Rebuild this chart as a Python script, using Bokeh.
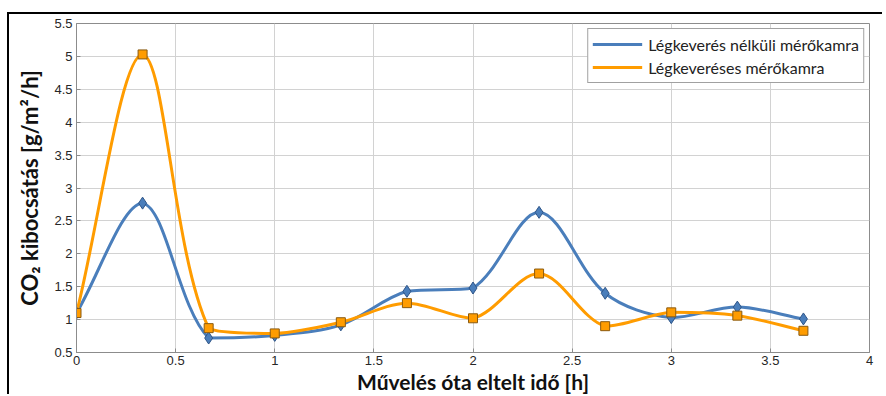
import numpy as np
from bokeh.plotting import figure
from bokeh.models import FixedTicker, ColumnDataSource, Range1d
from bokeh.embed import file_html
from bokeh.resources import INLINE

# ---- data ----
hours = [0, 1/3, 2/3, 1, 4/3, 5/3, 2, 7/3, 8/3, 3, 10/3, 11/3]
without_mixing = [1.10, 2.77, 0.72, 0.76, 0.92, 1.43, 1.48, 2.63, 1.40, 1.03, 1.19, 1.01]
with_mixing = [1.10, 5.03, 0.87, 0.79, 0.96, 1.25, 1.02, 1.70, 0.90, 1.11, 1.06, 0.83]
series_names = ["Légkeverés nélküli mérőkamra", "Légkeveréses mérőkamra"]
x_ticks = [0, 0.5, 1, 1.5, 2, 2.5, 3, 3.5, 4]
y_ticks = [0.5, 1, 1.5, 2, 2.5, 3, 3.5, 4, 4.5, 5, 5.5]

BLUE = "#4a7ebb"
BLUE_EDGE = "#2f5588"
ORANGE = "#ff9c00"
ORANGE_EDGE = "#8a5a10"

W, H = 873, 380
ML, MR, MT, MB = 67, 15, 9, 41
SX = (W - ML - MR) / (x_ticks[-1] - x_ticks[0])
SY = (H - MT - MB) / (y_ticks[-1] - y_ticks[0])


def smooth_segments(xs, ys):
    """Bezier segments through the data points (smoothed-line rendering)."""
    P = np.column_stack([np.asarray(xs) * SX, np.asarray(ys) * SY])
    n = len(P)
    out = {k: [] for k in ["x0", "y0", "x1", "y1", "cx0", "cy0", "cx1", "cy1"]}

    def ctrl(i, forward):
        pm = P[max(i - 1, 0)]
        p = P[i]
        pp = P[min(i + 1, n - 1)]
        d = pp - pm
        lin = np.linalg.norm(p - pm)
        lout = np.linalg.norm(pp - p)
        if lin + lout == 0:
            return p.copy()
        f = (lout if forward else lin) / (lin + lout) / 3.0
        return p + d * f if forward else p - d * f

    for i in range(n - 1):
        a, b = P[i], P[i + 1]
        c1 = ctrl(i, True)
        c2 = ctrl(i + 1, False)
        lo, hi = min(a[1], b[1]), max(a[1], b[1])
        c1[1] = min(max(c1[1], lo), hi)
        c2[1] = min(max(c2[1], lo), hi)
        out["x0"].append(a[0] / SX); out["y0"].append(a[1] / SY)
        out["x1"].append(b[0] / SX); out["y1"].append(b[1] / SY)
        out["cx0"].append(c1[0] / SX); out["cy0"].append(c1[1] / SY)
        out["cx1"].append(c2[0] / SX); out["cy1"].append(c2[1] / SY)
    return out


p = figure(width=W, height=H, output_backend="svg", toolbar_location=None,
           x_range=Range1d(x_ticks[0], x_ticks[-1]),
           y_range=Range1d(y_ticks[0], y_ticks[-1]),
           min_border_left=ML, min_border_right=MR,
           min_border_top=MT, min_border_bottom=MB)
p.styles = {"border-left": "2px solid black", "border-top": "2px solid black",
            "box-sizing": "content-box", "margin-top": "12px",
            "margin-left": "7px"}

p.background_fill_color = "white"
p.border_fill_color = "white"
p.outline_line_color = "#8c8c8c"
p.outline_line_width = 1

for ax in (p.xaxis[0], p.yaxis[0]):
    ax.axis_line_color = "#8c8c8c"
    ax.major_tick_line_color = "#8c8c8c"
    ax.major_tick_in = 4
    ax.major_tick_out = 0
    ax.minor_tick_line_color = None
    ax.major_label_text_font = "Liberation Sans"
    ax.major_label_text_font_size = "13px"
    ax.major_label_text_color = "#262626"
    ax.axis_label_text_font = "Lato"
    ax.axis_label_text_font_style = "bold"
    ax.axis_label_text_color = "#111111"

p.xaxis.axis_label_text_font_size = "21px"
p.yaxis.axis_label_text_font_size = "22px"
p.xaxis.ticker = FixedTicker(ticks=x_ticks)
p.yaxis.ticker = FixedTicker(ticks=y_ticks)
p.xaxis.major_label_overrides = {t: f"{t:g}" for t in x_ticks}
p.yaxis.major_label_overrides = {t: f"{t:g}" for t in y_ticks}
p.xaxis.major_label_standoff = 3
p.yaxis.major_label_standoff = 4
p.xaxis.axis_label = "Művelés óta eltelt idő [h]"
p.yaxis.axis_label = "CO₂ kibocsátás [g/m²/h]"
p.xaxis.axis_label_standoff = 1
p.yaxis.axis_label_standoff = 8

p.xgrid.grid_line_color = "#d2d2d2"
p.ygrid.grid_line_color = "#d2d2d2"
p.xgrid.grid_line_width = 1
p.ygrid.grid_line_width = 1

src_b = ColumnDataSource(smooth_segments(hours, without_mixing))
src_o = ColumnDataSource(smooth_segments(hours, with_mixing))

p.bezier(x0="x0", y0="y0", x1="x1", y1="y1", cx0="cx0", cy0="cy0",
         cx1="cx1", cy1="cy1", source=src_b, line_color=BLUE, line_width=3,
         legend_label=series_names[0])
p.bezier(x0="x0", y0="y0", x1="x1", y1="y1", cx0="cx0", cy0="cy0",
         cx1="cx1", cy1="cy1", source=src_o, line_color=ORANGE, line_width=3,
         legend_label=series_names[1])

p.scatter(hours, without_mixing, marker="diamond", size=12,
          fill_color=BLUE, line_color=BLUE_EDGE, line_width=1)
p.scatter(hours, with_mixing, marker="square", size=9,
          fill_color=ORANGE, line_color=ORANGE_EDGE, line_width=1)

lg = p.legend[0]
lg.location = "top_right"
lg.margin = 5
lg.padding = 4
lg.spacing = 1
lg.glyph_width = 50
lg.glyph_height = 22
lg.label_height = 22
lg.label_standoff = 6
lg.label_text_font = "Lato"
lg.label_text_font_size = "16px"
lg.label_text_color = "#222222"
lg.border_line_color = "#444444"
lg.border_line_width = 1
lg.background_fill_alpha = 1.0

open("out.html", "w").write(file_html(p, INLINE))
